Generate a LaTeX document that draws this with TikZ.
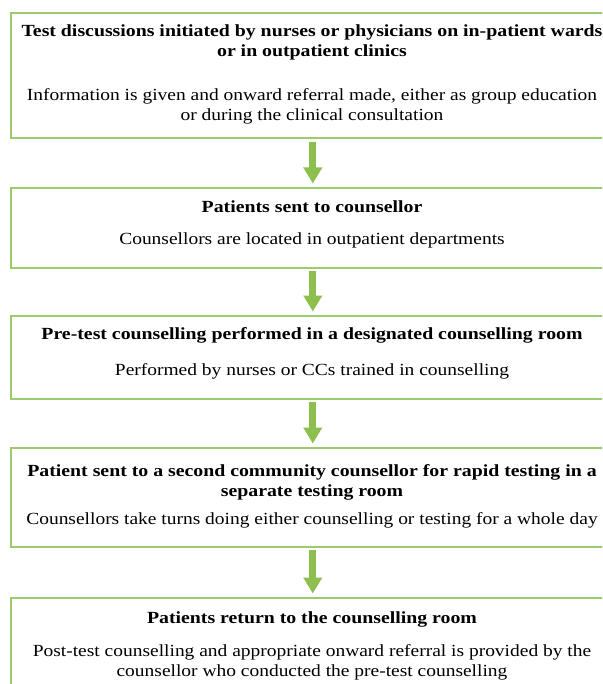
\documentclass[tikz,border=0pt]{standalone}
\usepackage{fontspec}
\setmainfont{Liberation Serif}[FakeStretch=1.145, BoldFeatures={FakeStretch=1.165}]
\usetikzlibrary{arrows.meta}
\definecolor{boxgreen}{HTML}{9CCB6C}
\definecolor{arrgreen}{HTML}{8CBF4E}
\tikzset{
  box/.style={draw=boxgreen, line width=1.6pt, anchor=north west, minimum width=604pt, inner sep=0pt},
  ttl/.style={font=\fontsize{17}{20}\selectfont\bfseries, align=center, inner sep=0pt, anchor=base},
  bdy/.style={font=\fontsize{17}{20}\selectfont, align=center, inner sep=0pt, anchor=base},
  flow/.style={draw=arrgreen, line width=7pt, -{Triangle[width=18pt,length=16pt]}, shorten <=2.5pt, shorten >=3.5pt}
}
\begin{document}
\begin{tikzpicture}[x=1pt,y=-1pt]
\useasboundingbox (0,0) rectangle (602,684);
\clip (0,0) rectangle (602,684);
\fill[white] (0,0) rectangle (602,684);
\node[box, minimum height=125.5pt] (b1) at (10,12) {};
\node[box, minimum height=80pt] (b2) at (10,187) {};
\node[box, minimum height=83pt] (b3) at (10,315) {};
\node[box, minimum height=99pt] (b4) at (10,447) {};
\node[box, minimum height=110pt] (b5) at (10,597) {};

% multi-line nodes are anchored at the baseline of their last line
\node[ttl] (t1) at (312,57) {Test discussions initiated by nurses or physicians on in-patient wards\\or in outpatient clinics};
\node[bdy] (d1) at (312,120.7) {Information is given and onward referral made, either as group education\\or during the clinical consultation};
\node[ttl] (t2) at (312,212.7) {Patients sent to counsellor};
\node[bdy] (d2) at (312,245) {Counsellors are located in outpatient departments};
\node[ttl] (t3) at (312,339) {Pre-test counselling performed in a designated counselling room};
\node[bdy] (d3) at (312,375) {Performed by nurses or CCs trained in counselling};
\node[ttl] (t4) at (312,496) {Patient sent to a second community counsellor for rapid testing in a\\separate testing room};
\node[bdy] (d4) at (312,524) {Counsellors take turns doing either counselling or testing for a whole day};
\node[ttl] (t5) at (312,623.3) {Patients return to the counselling room};
\node[bdy] (d5) at (312,676.7) {Post-test counselling and appropriate onward referral is provided by the\\counsellor who conducted the pre-test counselling};

\draw[flow] (b1.south) -- (b2.north);
\draw[flow] (b2.south) -- (b3.north);
\draw[flow] (b3.south) -- (b4.north);
\draw[flow] (b4.south) -- (b5.north);
\end{tikzpicture}
\end{document}
